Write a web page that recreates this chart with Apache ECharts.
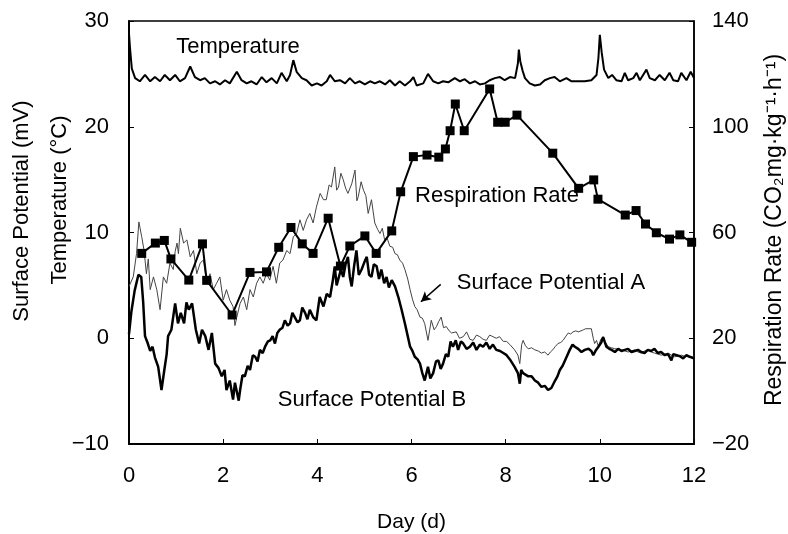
<!DOCTYPE html>
<html>
<head>
<meta charset="utf-8">
<script src="https://cdn.jsdelivr.net/npm/echarts@6/dist/echarts.min.js"></script>
<style>
  html, body { margin: 0; padding: 0; background: #fff; }
  #chart { width: 788px; height: 534px; }
</style>
</head>
<body>
<div id="chart"></div>
<script>
// day, temperature (°C)
var temperature = [
  [0,28.8],[0.02,27.5],[0.06,25.5],[0.13,24.6],[0.23,24.3],[0.34,24.9],[0.45,24.3],[0.55,24.7],[0.66,24.3],[0.76,24.9],
  [0.87,24.4],[0.98,24.9],[1.08,24.3],[1.19,24.6],[1.3,25.7],[1.4,24.7],[1.51,24.4],[1.61,24.6],[1.72,24.1],[1.83,24.3],
  [1.93,24.0],[2.04,24.4],[2.14,24.1],[2.29,25.2],[2.39,24.4],[2.5,24.1],[2.6,24.3],[2.71,24.0],[2.82,24.7],[2.92,24.2],
  [3.03,24.6],[3.14,24.1],[3.24,25.1],[3.35,24.3],[3.42,24.9],[3.49,26.3],[3.56,25.2],[3.67,24.6],[3.77,24.4],[3.88,23.9],
  [3.99,24.1],[4.09,23.9],[4.2,24.3],[4.27,24.9],[4.37,24.3],[4.48,24.4],[4.59,24.1],[4.69,24.6],[4.8,24.1],[4.9,24.3],
  [5.01,24.0],[5.12,24.3],[5.22,24.1],[5.33,24.3],[5.44,24.0],[5.54,24.4],[5.65,23.9],[5.75,24.3],[5.86,23.9],[5.97,24.3],
  [6.04,24.7],[6.11,23.9],[6.25,24.1],[6.35,25.0],[6.46,24.3],[6.57,24.1],[6.67,24.3],[6.78,24.2],[6.92,24.6],[7.03,24.3],
  [7.13,24.5],[7.24,24.1],[7.35,24.3],[7.45,24.0],[7.56,24.1],[7.66,24.4],[7.77,24.6],[7.88,24.7],[7.98,24.4],[8.09,24.7],
  [8.2,24.6],[8.26,26.0],[8.28,27.3],[8.31,26.2],[8.36,25.3],[8.41,24.6],[8.51,24.1],[8.62,23.9],[8.73,24.0],[8.83,24.4],
  [8.94,24.6],[9.04,24.7],[9.15,24.3],[9.29,24.6],[9.4,24.3],[9.54,24.3],[9.68,24.3],[9.82,24.4],[9.93,24.9],[9.97,26.5],
  [10.0,28.7],[10.04,27.0],[10.09,25.4],[10.18,24.6],[10.26,24.9],[10.35,24.4],[10.46,24.3],[10.53,25.1],[10.6,24.4],[10.71,24.6],
  [10.78,25.1],[10.85,24.4],[10.99,25.4],[11.06,24.6],[11.17,24.4],[11.27,24.9],[11.38,24.4],[11.48,25.1],[11.56,24.4],[11.66,24.3],
  [11.73,25.1],[11.84,24.4],[11.93,25.2],[12,24.6]
];

// day, surface potential A (mV)
var potentialA = [
  [0,4.9],[0.04,5.0],[0.09,5.8],[0.16,8.0],[0.21,11.0],[0.27,9.6],[0.32,8.3],[0.37,6.1],[0.41,7.5],[0.45,4.6],
  [0.52,5.8],[0.59,4.6],[0.66,2.7],[0.73,5.8],[0.8,5.2],[0.87,7.1],[0.94,6.5],[0.98,8.2],[1.02,9.0],[1.05,8.0],
  [1.09,10.4],[1.16,9.0],[1.23,9.3],[1.3,7.7],[1.37,8.3],[1.44,6.1],[1.51,7.1],[1.58,7.4],[1.65,5.2],[1.72,6.1],
  [1.79,4.6],[1.86,5.2],[1.93,5.8],[2.0,3.6],[2.07,4.6],[2.14,3.6],[2.21,3.0],[2.25,1.2],[2.29,2.0],[2.36,3.3],
  [2.43,3.9],[2.5,2.7],[2.57,4.6],[2.64,3.9],[2.71,5.2],[2.78,5.8],[2.85,5.2],[2.92,6.1],[2.99,5.5],[3.06,6.8],
  [3.13,5.2],[3.2,7.1],[3.27,7.4],[3.35,8.3],[3.42,8.0],[3.49,9.6],[3.56,9.9],[3.63,11.2],[3.7,10.2],[3.77,11.2],
  [3.84,11.8],[3.91,10.9],[3.98,12.4],[4.06,13.7],[4.13,13.1],[4.19,13.1],[4.25,14.5],[4.3,14.3],[4.37,16.2],[4.41,14.0],
  [4.45,14.3],[4.5,15.6],[4.55,15.0],[4.6,14.2],[4.65,13.7],[4.73,14.6],[4.8,15.9],[4.84,13.0],[4.87,13.4],[4.93,14.8],
  [4.98,14.0],[5.03,13.5],[5.08,11.8],[5.15,13.1],[5.22,10.9],[5.28,10.3],[5.33,9.9],[5.38,10.4],[5.43,9.3],[5.48,9.5],
  [5.54,8.7],[5.6,8.6],[5.65,8.0],[5.7,7.9],[5.75,7.4],[5.81,7.1],[5.86,6.5],[5.92,5.6],[5.97,4.6],[6.02,3.7],
  [6.07,3.0],[6.12,2.7],[6.18,2.0],[6.23,1.9],[6.28,1.4],[6.35,-0.2],[6.42,1.7],[6.48,0.8],[6.53,1.1],[6.58,1.6],
  [6.63,2.0],[6.68,1.0],[6.74,1.1],[6.8,0.7],[6.85,0.5],[6.95,0.6],[7.02,0.0],[7.1,0.15],[7.17,0.6],[7.24,-0.1],
  [7.31,-0.2],[7.38,0.3],[7.45,0.15],[7.52,-0.1],[7.59,-0.2],[7.66,0.3],[7.73,0.15],[7.8,0.0],[7.87,0.15],[7.95,-0.3],
  [8.02,-0.3],[8.09,-0.6],[8.19,-1.1],[8.26,-1.6],[8.3,-2.4],[8.34,-0.6],[8.37,-0.2],[8.42,-0.7],[8.48,-1.0],[8.55,-0.9],
  [8.62,-1.1],[8.69,-1.2],[8.76,-1.4],[8.83,-1.3],[8.9,-1.6],[8.95,-1.3],[9.0,-1.1],[9.05,-0.8],[9.11,-0.5],[9.17,-0.4],
  [9.22,-0.2],[9.28,0.2],[9.33,0.5],[9.38,0.4],[9.43,0.6],[9.49,0.7],[9.54,0.6],[9.6,0.7],[9.65,0.8],[9.7,0.9],
  [9.75,0.9],[9.82,0.9],[9.86,0.0],[9.89,-0.5],[9.93,-0.2],[9.97,-0.8],[10.02,-0.1],[10.07,0.15],[10.12,-0.4],[10.18,-0.8],
  [10.25,-0.9],[10.32,-1.0],[10.39,-1.0],[10.46,-1.1],[10.53,-1.2],[10.6,-1.3],[10.67,-1.2],[10.74,-1.1],[10.81,-1.3],[10.88,-1.4],
  [10.95,-1.2],[11.02,-1.1],[11.09,-1.3],[11.16,-1.4],[11.23,-1.5],[11.31,-1.6],[11.38,-1.5],[11.45,-1.4],[11.52,-1.6],[11.59,-1.75],
  [11.66,-1.7],[11.73,-1.6],[11.8,-1.7],[11.87,-1.75],[11.94,-1.8],[12,-1.75]
];

// day, surface potential B (mV)
var potentialB = [
  [0,0.4],[0.05,2.5],[0.12,4.5],[0.2,6.0],[0.26,5.8],[0.3,3.5],[0.34,0.2],[0.4,-0.5],[0.45,-1.2],[0.5,-0.8],
  [0.55,-1.8],[0.62,-2.7],[0.69,-4.9],[0.75,-3.0],[0.8,-1.5],[0.83,0.2],[0.9,0.8],[0.98,3.3],[1.04,1.4],[1.1,2.4],
  [1.17,1.4],[1.22,3.4],[1.27,2.7],[1.34,3.3],[1.42,0.8],[1.49,-0.5],[1.55,0.8],[1.62,0.2],[1.69,-1.1],[1.76,0.5],
  [1.83,-2.4],[1.9,-2.8],[1.97,-3.6],[2.03,-3.0],[2.07,-4.9],[2.14,-4.0],[2.21,-5.8],[2.25,-4.2],[2.29,-4.3],[2.33,-5.9],
  [2.36,-4.9],[2.41,-3.5],[2.46,-3.6],[2.52,-2.6],[2.57,-3.0],[2.63,-1.6],[2.68,-1.75],[2.73,-2.2],[2.78,-1.1],[2.84,-1.4],
  [2.89,-0.8],[2.95,-0.3],[3.0,-0.2],[3.05,0.2],[3.1,-0.5],[3.15,0.5],[3.2,0.8],[3.26,1.0],[3.31,1.7],[3.37,1.2],
  [3.42,1.4],[3.47,2.4],[3.52,2.0],[3.58,1.5],[3.63,1.7],[3.68,2.9],[3.74,2.4],[3.79,1.8],[3.84,2.7],[3.91,2.0],
  [3.98,1.7],[4.05,3.9],[4.13,3.0],[4.2,4.2],[4.27,3.9],[4.33,5.5],[4.37,6.8],[4.41,5.0],[4.45,4.9],[4.5,6.5],
  [4.55,5.8],[4.6,7.0],[4.65,7.7],[4.69,5.8],[4.73,4.9],[4.78,6.8],[4.83,8.3],[4.88,6.0],[4.94,6.5],[5.0,7.2],
  [5.05,7.7],[5.1,6.0],[5.15,5.8],[5.2,7.0],[5.26,6.8],[5.31,5.6],[5.36,6.5],[5.42,5.2],[5.47,5.8],[5.52,4.8],
  [5.58,5.5],[5.65,4.9],[5.72,3.9],[5.79,2.7],[5.86,1.4],[5.92,0.2],[5.97,-0.8],[6.02,-1.2],[6.07,-1.75],[6.13,-2.0],
  [6.18,-2.4],[6.23,-3.3],[6.28,-4.0],[6.35,-2.7],[6.4,-3.8],[6.46,-3.3],[6.52,-2.2],[6.57,-2.1],[6.62,-2.9],[6.67,-2.4],
  [6.73,-1.5],[6.78,-1.75],[6.83,-0.3],[6.88,-0.8],[6.94,-0.2],[6.99,-1.1],[7.05,-0.3],[7.1,-0.5],[7.17,-1.0],[7.24,-0.8],
  [7.31,-0.4],[7.38,-1.1],[7.45,-0.6],[7.52,-0.8],[7.59,-0.4],[7.66,-1.0],[7.73,-0.6],[7.8,-1.1],[7.88,-1.2],[7.95,-1.4],
  [8.02,-1.6],[8.09,-2.0],[8.19,-2.7],[8.26,-3.3],[8.3,-4.3],[8.33,-3.0],[8.37,-3.3],[8.48,-3.6],[8.55,-3.6],[8.62,-4.0],
  [8.69,-4.2],[8.76,-4.6],[8.83,-4.5],[8.9,-4.9],[8.97,-4.7],[9.05,-4.0],[9.1,-3.6],[9.15,-3.0],[9.21,-2.6],[9.26,-2.1],
  [9.31,-1.6],[9.36,-1.1],[9.42,-0.6],[9.47,-0.8],[9.54,-1.0],[9.61,-1.3],[9.68,-1.1],[9.76,-1.0],[9.82,-1.2],[9.86,-1.6],
  [9.92,-1.1],[9.97,-0.8],[10.03,-0.4],[10.07,0.1],[10.1,-0.3],[10.14,-0.8],[10.2,-1.0],[10.25,-1.1],[10.32,-1.3],[10.39,-1.0],
  [10.46,-1.2],[10.53,-1.1],[10.6,-1.0],[10.67,-1.3],[10.74,-1.2],[10.81,-1.1],[10.88,-1.3],[10.95,-1.4],[11.02,-1.1],[11.09,-1.2],
  [11.16,-1.0],[11.23,-1.4],[11.3,-1.3],[11.38,-1.6],[11.45,-1.5],[11.52,-2.1],[11.56,-1.5],[11.63,-1.6],[11.7,-1.7],[11.77,-1.9],
  [11.84,-1.6],[11.91,-1.75],[12,-1.9]
];

// day, respiration rate (CO2 mg/kg/h)
var respiration = [
  [0.27,52.1],[0.56,56.0],[0.75,57.0],[0.89,50.0],[1.27,42.0],[1.56,55.7],[1.65,41.9],[2.19,28.8],[2.57,44.9],[2.92,45.1],
  [3.18,54.4],[3.44,61.9],[3.68,55.7],[3.91,52.1],[4.23,65.4],[4.49,47.3],[4.69,54.9],[5.01,58.7],[5.25,52.1],[5.58,60.6],
  [5.77,75.4],[6.04,88.7],[6.33,89.3],[6.58,88.5],[6.72,91.6],[6.82,98.5],[6.93,108.6],[7.12,98.5],[7.66,114.3],[7.83,101.7],
  [7.99,101.7],[8.24,104.4],[9.0,90.0],[9.55,76.7],[9.87,79.9],[9.96,72.6],[10.54,66.6],[10.77,68.3],[10.97,63.2],[11.2,59.9],
  [11.48,57.5],[11.7,59.1],[11.95,56.3]
];

// arrow pointing at curve A (day, mV): [from, to]
var arrowA = [[6.62, 5.1], [6.2, 3.45]];

var FONT = '"Liberation Sans", Arial, sans-serif';

var chart = echarts.init(document.getElementById('chart'), null, {renderer: 'canvas'});

var tickStyle = {show: true, inside: true, length: 5, lineStyle: {color: '#000', width: 1}};

function minusLabel(v) {
    return v < 0 ? '\u2212' + Math.abs(v) : '' + v;
}

var option = {
    animation: false,
    backgroundColor: '#fff',
    grid: {
        left: 129, right: 94, top: 21, bottom: 90,
        outerBoundsMode: 'none',
        containLabel: false,
        show: true, borderColor: '#000', borderWidth: 1.5
    },
    xAxis: {
        type: 'value',
        min: 0, max: 12, interval: 2,
        name: 'Day (d)',
        nameLocation: 'middle',
        nameGap: 68,
        nameTextStyle: {color: '#000', fontSize: 21, fontFamily: FONT},
        axisLine: {show: true, onZero: false, lineStyle: {color: '#000', width: 2}},
        axisTick: tickStyle,
        axisLabel: {color: '#000', fontSize: 22, fontFamily: FONT, margin: 21},
        splitLine: {show: false}
    },
    yAxis: [
        {
            type: 'value',
            min: -10, max: 30, interval: 10,
            position: 'left',
            axisLine: {show: true, lineStyle: {color: '#000', width: 2}},
            axisTick: tickStyle,
            axisLabel: {color: '#000', fontSize: 22, fontFamily: FONT, margin: 20, formatter: minusLabel},
            splitLine: {show: false}
        },
        {
            type: 'value',
            min: -20, max: 140, interval: 40,
            position: 'right',
            axisLine: {show: true, lineStyle: {color: '#000', width: 1.5}},
            axisTick: tickStyle,
            axisLabel: {color: '#000', fontSize: 22, fontFamily: FONT, margin: 18, formatter: minusLabel},
            splitLine: {show: false}
        }
    ],
    graphic: [
        {type: 'text', x: 22, y: 211, rotation: Math.PI / 2,
         style: {text: 'Surface Potential (mV)', fill: '#000', font: '22px ' + FONT, align: 'center', verticalAlign: 'middle'}},
        {type: 'text', x: 60, y: 200, rotation: Math.PI / 2,
         style: {text: 'Temperature (\u00b0C)', fill: '#000', font: '22px ' + FONT, align: 'center', verticalAlign: 'middle'}},
        {type: 'text', x: 775, y: 230, rotation: Math.PI / 2,
         style: {text: 'Respiration Rate (CO\u2082mg\u00b7kg\u207b\u00b9\u00b7h\u207b\u00b9)', fill: '#000', font: '23px ' + FONT, align: 'center', verticalAlign: 'middle'}},
        {type: 'text', x: 238, y: 47,
         style: {text: 'Temperature', fill: '#000', font: '22px ' + FONT, align: 'center', verticalAlign: 'middle'}},
        {type: 'text', x: 497, y: 196,
         style: {text: 'Respiration Rate', fill: '#000', font: '22px ' + FONT, align: 'center', verticalAlign: 'middle'}},
        {type: 'text', x: 551, y: 283,
         style: {text: 'Surface Potential A', fill: '#000', font: '22px ' + FONT, align: 'center', verticalAlign: 'middle'}},
        {type: 'text', x: 372, y: 400,
         style: {text: 'Surface Potential B', fill: '#000', font: '22px ' + FONT, align: 'center', verticalAlign: 'middle'}}
    ],
    series: [
        {
            name: 'Surface Potential A',
            type: 'line',
            yAxisIndex: 0,
            data: potentialA,
            showSymbol: false,
            lineStyle: {color: '#444', width: 1},
            markLine: {
                silent: true,
                symbol: ['none', 'arrow'],
                symbolSize: [8, 10],
                label: {show: false},
                lineStyle: {color: '#000', width: 1.5, type: 'solid'},
                data: [[
                    {coord: arrowA[0]},
                    {coord: arrowA[1]}
                ]]
            }
        },
        {
            name: 'Surface Potential B',
            type: 'line',
            yAxisIndex: 0,
            data: potentialB,
            showSymbol: false,
            lineStyle: {color: '#000', width: 2.5}
        },
        {
            name: 'Temperature',
            type: 'line',
            yAxisIndex: 0,
            data: temperature,
            showSymbol: false,
            lineStyle: {color: '#000', width: 2}
        },
        {
            name: 'Respiration Rate',
            type: 'line',
            yAxisIndex: 1,
            data: respiration,
            symbol: 'rect',
            symbolSize: 9,
            itemStyle: {color: '#000'},
            lineStyle: {color: '#000', width: 2}
        }
    ]
};

chart.setOption(option);
</script>
</body>
</html>
